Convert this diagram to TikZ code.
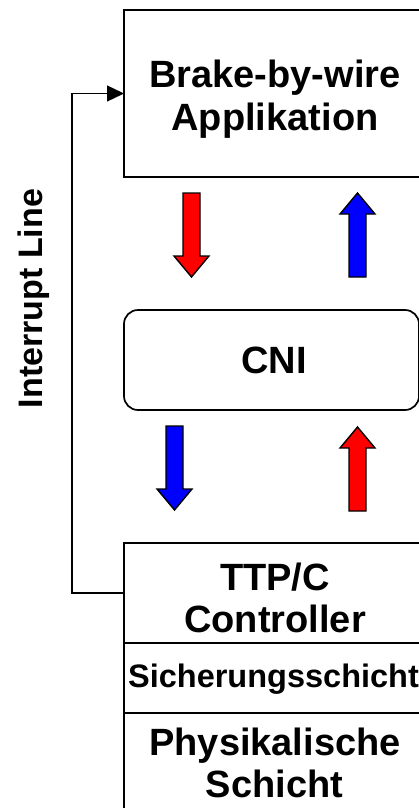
\documentclass[tikz,border=0pt]{standalone}
\usepackage{fontspec}
\setmainfont{Liberation Sans}
\usetikzlibrary{arrows.meta}
\begin{document}
\begin{tikzpicture}[x=1pt,y=-1pt,
  box/.style={draw, line width=1.7pt, inner sep=0pt, outer sep=0pt},
  txt/.style={anchor=base, inner sep=0pt, font=\bfseries\fontsize{38}{42}\selectfont},
  smalltxt/.style={txt, font=\bfseries\fontsize{32.5}{38}\selectfont},
  irq/.style={line width=1.3pt, -{Triangle[length=17pt,width=16pt]}},
  fatline/.style={line width=1.4pt, line join=miter},
  pics/fatdown/.style={code={
    \filldraw[fatline, fill=#1] (-8.5,-84) -- (8.5,-84) -- (8.5,-21) -- (17.5,-21)
      -- (0,0) -- (-17.5,-21) -- (-8.5,-21) -- cycle;}}]
  \useasboundingbox (0,0) rectangle (419,808);
  \clip (0,0) rectangle (419,808);

  % application layer
  \node[box, minimum width=298pt, minimum height=167pt] (app) at (273,93.5) {};
  \node[txt] (appA) at (275,87) {Brake-by-wire};
  \node[txt] (appB) at (275,130) {Applikation};

  % communication network interface
  \node[box, rounded corners=14pt, minimum width=295pt, minimum height=100pt] (cni) at (271.5,360) {};
  \node[txt] (cniT) at (274,373) {CNI};

  % TTP/C controller stack
  \node[box, minimum width=298pt, minimum height=100pt] (ctrl) at (273,593) {};
  \node[box, minimum width=298pt, minimum height=70pt] (dll) at (273,678) {};
  \node[box, minimum width=298pt, minimum height=127pt] (phy) at (273,776.5) {};
  \node[txt] (ctrlA) at (275,590) {TTP/C};
  \node[txt] (ctrlB) at (275,632) {Controller};
  \node[smalltxt] (dllT) at (273.5,687) {Sicherungsschicht};
  \node[txt] (phyA) at (275,755) {Physikalische};
  \node[txt] (phyB) at (274.5,797) {Schicht};

  % data flow arrows
  \pic at (191.5,277) {fatdown=red};
  \pic[rotate=180] at (357.5,193) {fatdown=blue};
  \pic at (174.5,510) {fatdown=blue};
  \pic[rotate=180] at (357.5,427) {fatdown=red};

  % interrupt line
  \draw[irq] (ctrl.west) -- ++(-52,0) |- (app.west);
  \node[txt, font=\bfseries\fontsize{34}{40}\selectfont, rotate=90] (irqT) at (42,298.5) {Interrupt Line};
\end{tikzpicture}
\end{document}
